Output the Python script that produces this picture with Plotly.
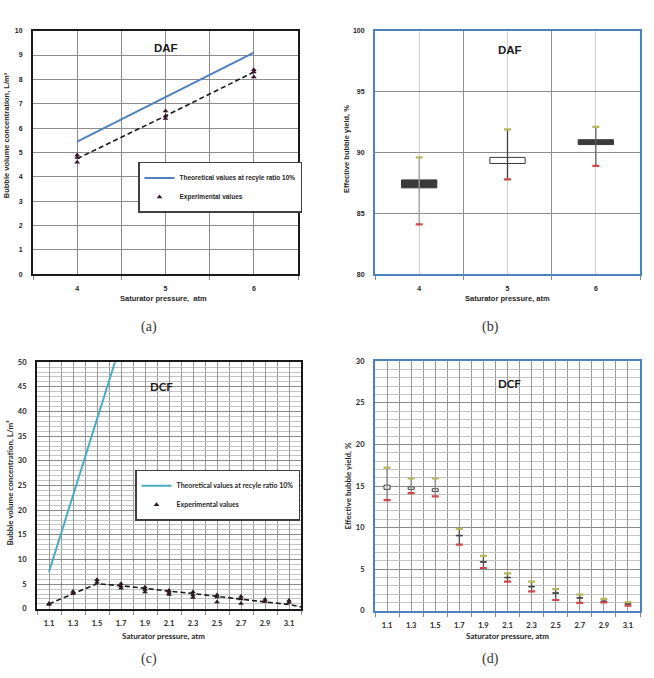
import plotly.graph_objects as go

W, H = 654, 678

# ---------------- (a) DAF bubble volume concentration ----------------
daf_pressure = [4, 5, 6]
daf_theory = [5.45, 7.28, 9.1]
daf_fit = [4.75, 6.5, 8.3]
daf_exp_x = [4, 4, 4, 5, 5, 5, 6, 6, 6]
daf_exp_y = [4.9, 4.8, 4.6, 6.7, 6.5, 6.4, 8.4, 8.3, 8.1]

# ---------------- (b) DAF effective bubble yield ----------------
daf_low = [84.1, 87.8, 88.9]
daf_high = [89.6, 91.9, 92.1]
daf_open = [87.75, 89.1, 91.05]
daf_close = [87.1, 89.6, 90.65]

# ---------------- (c) DCF bubble volume concentration ----------------
dcf_pressure = [1.1, 1.3, 1.5, 1.7, 1.9, 2.1, 2.3, 2.5, 2.7, 2.9, 3.1]
dcf_theory_x = [1.1, 1.3, 1.5, 1.7]
dcf_theory_y = [7.5, 23.0, 38.4, 53.9]
dcf_fit_x = [1.1, 1.3, 1.5, 1.7, 1.9, 2.1, 2.3, 2.5, 2.7, 2.9, 3.1, 3.2]
dcf_fit_y = [1.0, 3.1, 5.1, 4.7, 4.1, 3.6, 3.1, 2.5, 1.9, 1.4, 0.9, 0.4]
dcf_exp_x = [1.1, 1.1, 1.3, 1.3, 1.5, 1.5, 1.7, 1.7, 1.7, 1.9, 1.9, 1.9,
             2.1, 2.1, 2.1, 2.3, 2.3, 2.3, 2.5, 2.5, 2.5, 2.7, 2.7, 2.7,
             2.9, 2.9, 3.1, 3.1]
dcf_exp_y = [1.1, 0.9, 3.5, 3.1, 5.9, 5.4, 5.1, 4.6, 4.2, 4.4, 3.9, 3.4,
             3.7, 3.3, 2.9, 3.4, 2.8, 2.3, 2.8, 2.4, 1.4, 2.5, 2.0, 1.1,
             1.9, 1.5, 1.7, 1.3]

# ---------------- (d) DCF effective bubble yield ----------------
dcf_low = [13.3, 14.15, 13.75, 7.95, 5.15, 3.5, 2.35, 1.3, 0.95, 1.0, 0.63]
dcf_high = [17.2, 15.9, 15.9, 9.85, 6.6, 4.5, 3.5, 2.6, 1.94, 1.43, 1.03]
dcf_open = [14.6, 14.6, 14.35, 9.08, 5.9, 4.03, 2.93, 2.17, 1.58, 1.18, 0.86]
dcf_close = [15.1, 14.9, 14.67, 9.0, 5.84, 3.97, 2.87, 2.11, 1.52, 1.12, 0.8]

ARIAL = "Liberation Sans"
CALI = "Lato"
TXT = "#262626"
BLUE_FRAME = "#4F81BD"


def px_x(p):
    return p / W


def px_y(p):
    return 1 - p / H


fig = go.Figure()

# ---- (a)
fig.add_trace(go.Scatter(x=daf_pressure, y=daf_theory, mode="lines",
                         line=dict(color="#4F81BD", width=2),
                         name="Theoretical values at recyle ratio 10%",
                         xaxis="x", yaxis="y", legend="legend"))
fig.add_trace(go.Scatter(x=daf_pressure, y=daf_fit, mode="lines",
                         line=dict(color="#1a1a1a", width=1.6, dash="5px,3px"),
                         showlegend=False, xaxis="x", yaxis="y"))
fig.add_trace(go.Scatter(x=daf_exp_x, y=daf_exp_y, mode="markers",
                         marker=dict(symbol="triangle-up", size=5, color="#3a1530"),
                         name="Experimental values",
                         xaxis="x", yaxis="y", legend="legend"))


def stock(xs, lows, highs, opens, closes, width, whisk_colors, xa, ya):
    for i, xv in enumerate(xs):
        fig.add_trace(go.Scatter(x=[xv, xv], y=[lows[i], highs[i]], mode="lines",
                                 line=dict(color=whisk_colors[i], width=1.3),
                                 showlegend=False, xaxis=xa, yaxis=ya,
                                 hoverinfo="skip"))
    fig.add_trace(go.Scatter(x=xs, y=highs, mode="markers",
                             marker=dict(symbol="line-ew", size=5,
                                         line=dict(color="#B5B85A", width=2.2)),
                             showlegend=False, xaxis=xa, yaxis=ya))
    fig.add_trace(go.Scatter(x=xs, y=lows, mode="markers",
                             marker=dict(symbol="line-ew", size=5,
                                         line=dict(color="#D0484A", width=2.2)),
                             showlegend=False, xaxis=xa, yaxis=ya))
    bases = [min(o, c) for o, c in zip(opens, closes)]
    heights = [abs(o - c) for o, c in zip(opens, closes)]
    colors = ["#FFFFFF" if c > o else "#3A3A3A" for o, c in zip(opens, closes)]
    fig.add_trace(go.Bar(x=xs, y=heights, base=bases, width=width,
                         marker=dict(color=colors, line=dict(color="#3A3A3A", width=1)),
                         showlegend=False, xaxis=xa, yaxis=ya))


# ---- (b)
stock(daf_pressure, daf_low, daf_high, daf_open, daf_close, 0.4,
      ["#A0A0A0", "#404040", "#606060"], "x2", "y2")

# ---- (c)
fig.add_trace(go.Scatter(x=dcf_theory_x, y=dcf_theory_y, mode="lines",
                         line=dict(color="#4BACC6", width=2),
                         name="Theoretical values at recyle ratio 10%",
                         xaxis="x3", yaxis="y3", legend="legend2"))
fig.add_trace(go.Scatter(x=dcf_fit_x, y=dcf_fit_y, mode="lines",
                         line=dict(color="#1a1a1a", width=1.6, dash="5px,3px"),
                         showlegend=False, xaxis="x3", yaxis="y3"))
fig.add_trace(go.Scatter(x=dcf_exp_x, y=dcf_exp_y, mode="markers",
                         marker=dict(symbol="triangle-up", size=5, color="#2a1a22"),
                         name="Experimental values",
                         xaxis="x3", yaxis="y3", legend="legend2"))

# ---- (d)
stock(dcf_pressure, dcf_low, dcf_high, dcf_open, dcf_close, 0.05,
      ["#8A8A8A"] * 3 + ["#505050"] * 8, "x4", "y4")


def xaxis(domain, anchor, rng, tick0, dtick, mtick0, mdtick, grid, mgrid, lc, fam, size, fmt=None):
    d = dict(domain=domain, anchor=anchor, range=rng, tickmode="linear",
             tick0=tick0, dtick=dtick,
             showgrid=True, gridcolor=grid, gridwidth=1, zeroline=False,
             showline=True, mirror=True, linecolor=lc, linewidth=2,
             ticks="", ticklabelstandoff=6,
             tickfont=dict(family=fam, size=size, color=TXT, weight="bold"),
             minor=dict(tick0=mtick0, dtick=mdtick, showgrid=True, gridcolor=mgrid,
                        gridwidth=1, ticks="outside", ticklen=4, tickcolor="#888888"))
    if fmt:
        d["tickformat"] = fmt
    return d


def yaxis(domain, anchor, rng, dtick, mdtick, grid, mgrid, lc, fam, size):
    d = dict(domain=domain, anchor=anchor, range=rng, tickmode="linear",
             tick0=0, dtick=dtick,
             showgrid=True, gridcolor=grid, gridwidth=1, zeroline=False,
             showline=True, mirror=True, linecolor=lc, linewidth=2,
             ticks="", ticklabelstandoff=7,
             tickfont=dict(family=fam, size=size, color=TXT, weight="bold"))
    if mdtick:
        d["minor"] = dict(dtick=mdtick, showgrid=True, gridcolor=mgrid, gridwidth=1)
    return d


top_dom = [px_y(274), px_y(27)]
bot_dom_c = [px_y(613), px_y(363)]
bot_dom_d = [px_y(615), px_y(362)]

annotations = []


def ann(text, px, py, size, fam, angle=0, color=TXT, bold=True):
    annotations.append(dict(text=text, x=px_x(px), y=px_y(py), xref="paper", yref="paper",
                            showarrow=False, textangle=angle,
                            font=dict(family=fam, size=size, color=color,
                                      weight="bold" if bold else "normal"),
                            xanchor="center", yanchor="middle"))


ann("Bubble volume concentration, L/m³", 6, 133, 7.5, ARIAL, -90)
ann("Saturator pressure,  atm", 163, 298, 7.5, ARIAL)
ann("Effective bubble yield, %", 346, 147, 7.5, ARIAL, -90)
ann("Saturator pressure, atm", 507, 298, 7.5, ARIAL)
ann("Bubble volume concentration, L/m³", 10, 485, 8, CALI, -90)
ann("Saturator pressure, atm", 163, 641, 8, CALI)
ann("Effective bubble yield, %", 348, 489, 8, CALI, -90)
ann("Saturator pressure, atm", 507, 641, 8, CALI)
for t, cx, cy in [("(a)", 149, 327), ("(b)", 490, 327), ("(c)", 149, 664), ("(d)", 490, 664)]:
    ann(t, cx, cy, 14, "Liberation Serif", 0, "#333333", False)

for t, xa, ya, xv, yv, fam in [("DAF", "x", "y", 5.0, 9.27, ARIAL),
                               ("DAF", "x2", "y2", 5.03, 98.4, ARIAL),
                               ("DCF", "x3", "y3", 2.04, 45.0, CALI),
                               ("DCF", "x4", "y4", 2.12, 27.3, CALI)]:
    annotations.append(dict(text=t, x=xv, y=yv, xref=xa, yref=ya, showarrow=False,
                            font=dict(family=fam, size=11.5, color="#1a1a1a", weight="bold")))

leg_common = dict(xanchor="left", yanchor="top", bordercolor="#404040", borderwidth=1.5,
                  bgcolor="#FFFFFF", itemwidth=30, tracegroupgap=0)

fig.update_layout(
    width=W, height=H, autosize=False,
    margin=dict(l=0, r=0, t=0, b=0),
    paper_bgcolor="#FFFFFF", plot_bgcolor="#FFFFFF",
    showlegend=True,
    xaxis=xaxis([px_x(33), px_x(298)], "y", [3.5, 6.5], 4, 1, 3.5, 0.5,
                "#8C8C8C", "#8C8C8C", "#1a1a1a", ARIAL, 7),
    yaxis=yaxis(top_dom, "x", [0, 10], 1, None, "#8C8C8C", None, "#1a1a1a", ARIAL, 7),
    xaxis2=xaxis([px_x(375), px_x(640)], "y2", [3.5, 6.5], 4, 1, 3.5, 0.5,
                 "#CFCFCF", "#8C8C8C", BLUE_FRAME, ARIAL, 7),
    yaxis2=yaxis(top_dom, "x2", [80, 100], 5, None, "#8C8C8C", None, BLUE_FRAME, ARIAL, 7),
    xaxis3=xaxis([px_x(37), px_x(301)], "y3", [1.0, 3.2], 1.1, 0.2, 1.0, 0.1,
                 "#999999", "#999999", "#1a1a1a", CALI, 7.5, ".1f"),
    yaxis3=yaxis(bot_dom_c, "x3", [0, 50], 5, 1, "#8A8A8A", "#C4C4C4", "#1a1a1a", CALI, 7.5),
    xaxis4=xaxis([px_x(375), px_x(640)], "y4", [1.0, 3.2], 1.1, 0.2, 1.0, 0.1,
                 "#999999", "#999999", BLUE_FRAME, CALI, 7.5, ".1f"),
    yaxis4=yaxis(bot_dom_d, "x4", [0, 30], 5, 1, "#8A8A8A", "#C4C4C4", BLUE_FRAME, CALI, 7.5),
    legend=dict(x=px_x(138), y=px_y(160),
                font=dict(family=ARIAL, size=6.5, color=TXT, weight="bold"), **leg_common),
    legend2=dict(x=px_x(135), y=px_y(472),
                 font=dict(family=CALI, size=7, color=TXT, weight="bold"), **leg_common),
    annotations=annotations,
    barmode="overlay",
)

fig.write_html("out.html")
